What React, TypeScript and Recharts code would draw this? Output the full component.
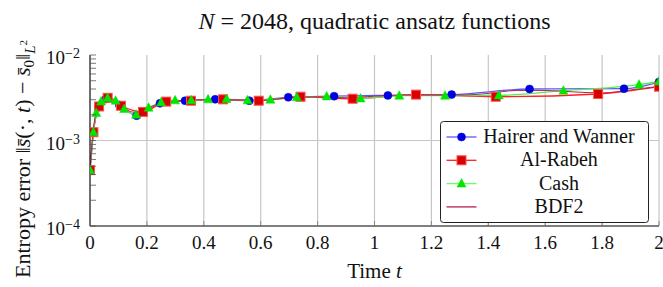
import React from "react";
import {
  LineChart,
  Line,
  XAxis,
  YAxis,
  CartesianGrid,
  ReferenceLine,
} from "recharts";

// time steps and entropy errors
const hairerT = [0, 0.012, 0.03, 0.055, 0.103, 0.164, 0.246, 0.334, 0.44, 0.56, 0.697, 0.858, 1.047, 1.271, 1.545, 1.877, 2];
const hairerE = [4.5e-4, 1.25e-3, 2.45e-3, 3.05e-3, 2.6e-3, 1.95e-3, 2.72e-3, 2.92e-3, 3.03e-3, 2.92e-3, 3.2e-3, 3.3e-3, 3.37e-3, 3.44e-3, 4.0e-3, 4.04e-3, 4.83e-3];

const rabehT = [0, 0.012, 0.032, 0.062, 0.109, 0.186, 0.268, 0.355, 0.468, 0.593, 0.74, 0.923, 1.146, 1.426, 1.786, 2];
const rabehE = [4.5e-4, 1.25e-3, 2.5e-3, 3.16e-3, 2.55e-3, 2.16e-3, 2.85e-3, 2.92e-3, 3.03e-3, 2.92e-3, 3.25e-3, 3.08e-3, 3.44e-3, 3.25e-3, 3.5e-3, 4.26e-3];

const cashT = [0, 0.012, 0.022, 0.039, 0.062, 0.09, 0.12, 0.162, 0.206, 0.25, 0.299, 0.356, 0.415, 0.48, 0.554, 0.634, 0.727, 0.832, 0.951, 1.087, 1.248, 1.437, 1.664, 1.93, 2];
const cashE = [4.5e-4, 1.25e-3, 2.1e-3, 2.85e-3, 3.15e-3, 2.92e-3, 2.33e-3, 2.0e-3, 2.42e-3, 2.79e-3, 2.95e-3, 2.95e-3, 3.03e-3, 3.05e-3, 2.95e-3, 3.0e-3, 3.2e-3, 3.28e-3, 3.1e-3, 3.34e-3, 3.34e-3, 3.37e-3, 3.83e-3, 4.5e-3, 4.9e-3];

const bdfT = [0, 0.01, 0.025, 0.05, 0.075, 0.1, 0.125, 0.15, 0.175, 0.2, 0.25, 0.3, 0.4, 0.5, 0.6, 0.7, 0.8, 0.9, 1.0, 1.1, 1.2, 1.3, 1.4, 1.5, 1.6, 1.7, 1.8, 1.9, 2];
const bdfE = [4.5e-4, 1.2e-3, 2.3e-3, 3.0e-3, 3.1e-3, 2.7e-3, 2.35e-3, 2.15e-3, 2.15e-3, 2.35e-3, 2.75e-3, 2.9e-3, 3.0e-3, 3.0e-3, 2.95e-3, 3.15e-3, 3.25e-3, 3.15e-3, 3.3e-3, 3.4e-3, 3.4e-3, 3.4e-3, 3.55e-3, 3.85e-3, 3.85e-3, 3.7e-3, 3.6e-3, 3.9e-3, 4.3e-3];

const xTicks = [0, 0.2, 0.4, 0.6, 0.8, 1, 1.2, 1.4, 1.6, 1.8, 2];
const yMajor = [1e-4, 1e-3, 1e-2];
const yMinor = [2e-4, 3e-4, 4e-4, 5e-4, 6e-4, 7e-4, 8e-4, 9e-4, 2e-3, 3e-3, 4e-3, 5e-3, 6e-3, 7e-3, 8e-3, 9e-3];

const seriesNames = ["Hairer and Wanner", "Al-Rabeh", "Cash", "BDF2"];

const toPoints = (t: number[], e: number[]) => t.map((v, i) => ({ t: v, e: e[i] }));

const FONT = "Liberation Serif, DejaVu Serif, serif";
const txt: React.CSSProperties = { fontFamily: FONT };
const GRID = "#c6c6c6";
const BLUE = "#0000e0";
const RED = "#d80000";
const GREEN = "#00e600";
const CRIMSON = "#b81e50";

const yTicks = [...yMajor, ...yMinor].sort((a, b) => a - b);
const isMajor = (v: number) => yMajor.some((m) => Math.abs(m - v) < m * 1e-6);

const LeftTick = (props: any) => {
  const { x, y, payload } = props;
  const v = payload.value;
  const exp = Math.round(Math.log10(v));
  return (
    <g>
      <line x1={x} x2={x + 6} y1={y} y2={y} stroke="#555" strokeWidth={0.8} />
      {isMajor(v) && (
        <text x={x - 10} y={y + 9} textAnchor="end" style={txt} fontSize={19} fill="#111">
          10
          <tspan dy={-6} fontSize={14}>{"\u2212" + -exp}</tspan>
        </text>
      )}
    </g>
  );
};

const RightTick = (props: any) => {
  const { x, y } = props;
  return <line x1={x} x2={x - 6} y1={y} y2={y} stroke="#555" strokeWidth={0.8} />;
};

const BottomTick = (props: any) => {
  const { x, y, payload } = props;
  return (
    <g>
      <line x1={x} x2={x} y1={y} y2={y - 5} stroke="#777" strokeWidth={0.8} />
      <text x={x} y={y + 23} textAnchor="middle" style={txt} fontSize={19} fill="#111">
        {String(+Number(payload.value).toFixed(1))}
      </text>
    </g>
  );
};

const TopTick = (props: any) => {
  const { x, y } = props;
  return <line x1={x} x2={x} y1={y} y2={y + 5} stroke="#777" strokeWidth={0.8} />;
};

const CircleDot = (p: any) =>
  p.cx == null ? <g /> : <circle cx={p.cx} cy={p.cy} r={4} fill={BLUE} stroke={BLUE} strokeWidth={0.5} />;

const SquareDot = (p: any) =>
  p.cx == null ? <g /> : (
    <rect x={p.cx - 4.5} y={p.cy - 4.5} width={9} height={9} fill={RED} stroke="#ff5050" strokeWidth={1} />
  );

const TriangleDot = (p: any) =>
  p.cx == null ? <g /> : (
    <polygon
      points={`${p.cx},${p.cy - 5} ${p.cx - 4.5},${p.cy + 3.5} ${p.cx + 4.5},${p.cy + 3.5}`}
      fill={GREEN}
      stroke={GREEN}
      strokeWidth={0.5}
    />
  );

function LegendBox() {
  const x0 = 440.5;
  const rows = [137, 160.3, 183.6, 206.9];
  return (
    <g>
      <rect x={x0} y={121.5} width={208} height={101} rx={3} fill="#fff" stroke="#222" strokeWidth={1} />
      {seriesNames.map((name, i) => {
        const y = rows[i];
        const stroke = ["#5a5aff", "#ff2020", "#66ff66", CRIMSON][i];
        return (
          <g key={name}>
            <line x1={x0 + 6} x2={x0 + 36} y1={y} y2={y} stroke={stroke} strokeWidth={1.3} />
            {i === 0 && <CircleDot cx={x0 + 21} cy={y} />}
            {i === 1 && <SquareDot cx={x0 + 21} cy={y} />}
            {i === 2 && <TriangleDot cx={x0 + 21} cy={y} />}
            <text x={559} y={y + 6} textAnchor="middle" style={txt} fontSize={20} fill="#111">
              {name}
            </text>
          </g>
        );
      })}
    </g>
  );
}

export default function App() {
  return (
    <div style={{ position: "absolute", left: 0, top: 0, width: 663, height: 287, background: "#fff" }}>
      <LineChart width={663} height={287} margin={{ top: 55, right: 4, left: 0, bottom: 0 }}>
        <CartesianGrid horizontal={false} stroke={GRID} strokeWidth={1.2} />
        <ReferenceLine y={1e-3} stroke={GRID} strokeWidth={1.2} />
        <XAxis
          dataKey="t"
          type="number"
          domain={[0, 2]}
          ticks={xTicks}
          allowDataOverflow
          height={61}
          tickSize={0}
          tickMargin={0}
          tickLine={false}
          axisLine={{ stroke: "#000" }}
          tick={<BottomTick />}
        />
        <XAxis
          xAxisId="top"
          orientation="top"
          type="number"
          domain={[0, 2]}
          ticks={xTicks}
          allowDataOverflow
          height={0}
          tickSize={0}
          tickMargin={0}
          tickLine={false}
          axisLine={{ stroke: "#000" }}
          tick={<TopTick />}
        />
        <YAxis
          type="number"
          scale="log"
          domain={[1e-4, 1e-2]}
          ticks={yTicks}
          allowDataOverflow
          width={90}
          tickSize={0}
          tickMargin={0}
          tickLine={false}
          axisLine={{ stroke: "#000" }}
          tick={<LeftTick />}
          interval={0}
        />
        <YAxis
          yAxisId="right"
          orientation="right"
          type="number"
          scale="log"
          domain={[1e-4, 1e-2]}
          ticks={yTicks}
          allowDataOverflow
          width={0}
          tickSize={0}
          tickMargin={0}
          tickLine={false}
          axisLine={{ stroke: "#000" }}
          tick={<RightTick />}
          interval={0}
        />
        <Line
          data={toPoints(hairerT, hairerE)}
          dataKey="e"
          name={seriesNames[0]}
          type="monotone"
          stroke="#5a5aff"
          strokeWidth={1.3}
          dot={<CircleDot />}
          isAnimationActive={false}
        />
        <Line
          data={toPoints(rabehT, rabehE)}
          dataKey="e"
          name={seriesNames[1]}
          type="monotone"
          stroke="#ff2020"
          strokeWidth={1.3}
          dot={<SquareDot />}
          isAnimationActive={false}
        />
        <Line
          data={toPoints(cashT, cashE)}
          dataKey="e"
          name={seriesNames[2]}
          type="monotone"
          stroke="#55ee55"
          strokeWidth={1.3}
          dot={<TriangleDot />}
          isAnimationActive={false}
        />
        <Line
          data={toPoints(bdfT, bdfE)}
          dataKey="e"
          name={seriesNames[3]}
          type="monotone"
          stroke={CRIMSON}
          strokeWidth={1}
          dot={false}
          isAnimationActive={false}
        />
      </LineChart>
      <svg
        width={663}
        height={287}
        style={{ position: "absolute", left: 0, top: 0, pointerEvents: "none" }}
      >
        <text x={374.5} y={29} textAnchor="middle" style={txt} fontSize={24} fill="#111">
          <tspan fontStyle="italic">N</tspan> = 2048, quadratic ansatz functions
        </text>
        <text x={374.5} y={278} textAnchor="middle" style={txt} fontSize={21} fill="#111">
          Time <tspan fontStyle="italic">t</tspan>
        </text>
        <text transform="translate(30,278) rotate(-90)" style={txt} fontSize={22} fill="#111">
          Entropy error {"\u2016"}
          <tspan fontStyle="italic">{"s\u0304"}</tspan>(·, <tspan fontStyle="italic">t</tspan>) {"\u2212"}{" "}
          <tspan fontStyle="italic">{"s\u0304"}</tspan>
          <tspan dy={4} fontSize={15}>0</tspan>
          <tspan dy={-4}>{"\u2016"}</tspan>
          <tspan dy={5} fontSize={15} fontStyle="italic">L</tspan>
          <tspan dy={-8} fontSize={11}>2</tspan>
        </text>
        <LegendBox />
      </svg>
    </div>
  );
}
